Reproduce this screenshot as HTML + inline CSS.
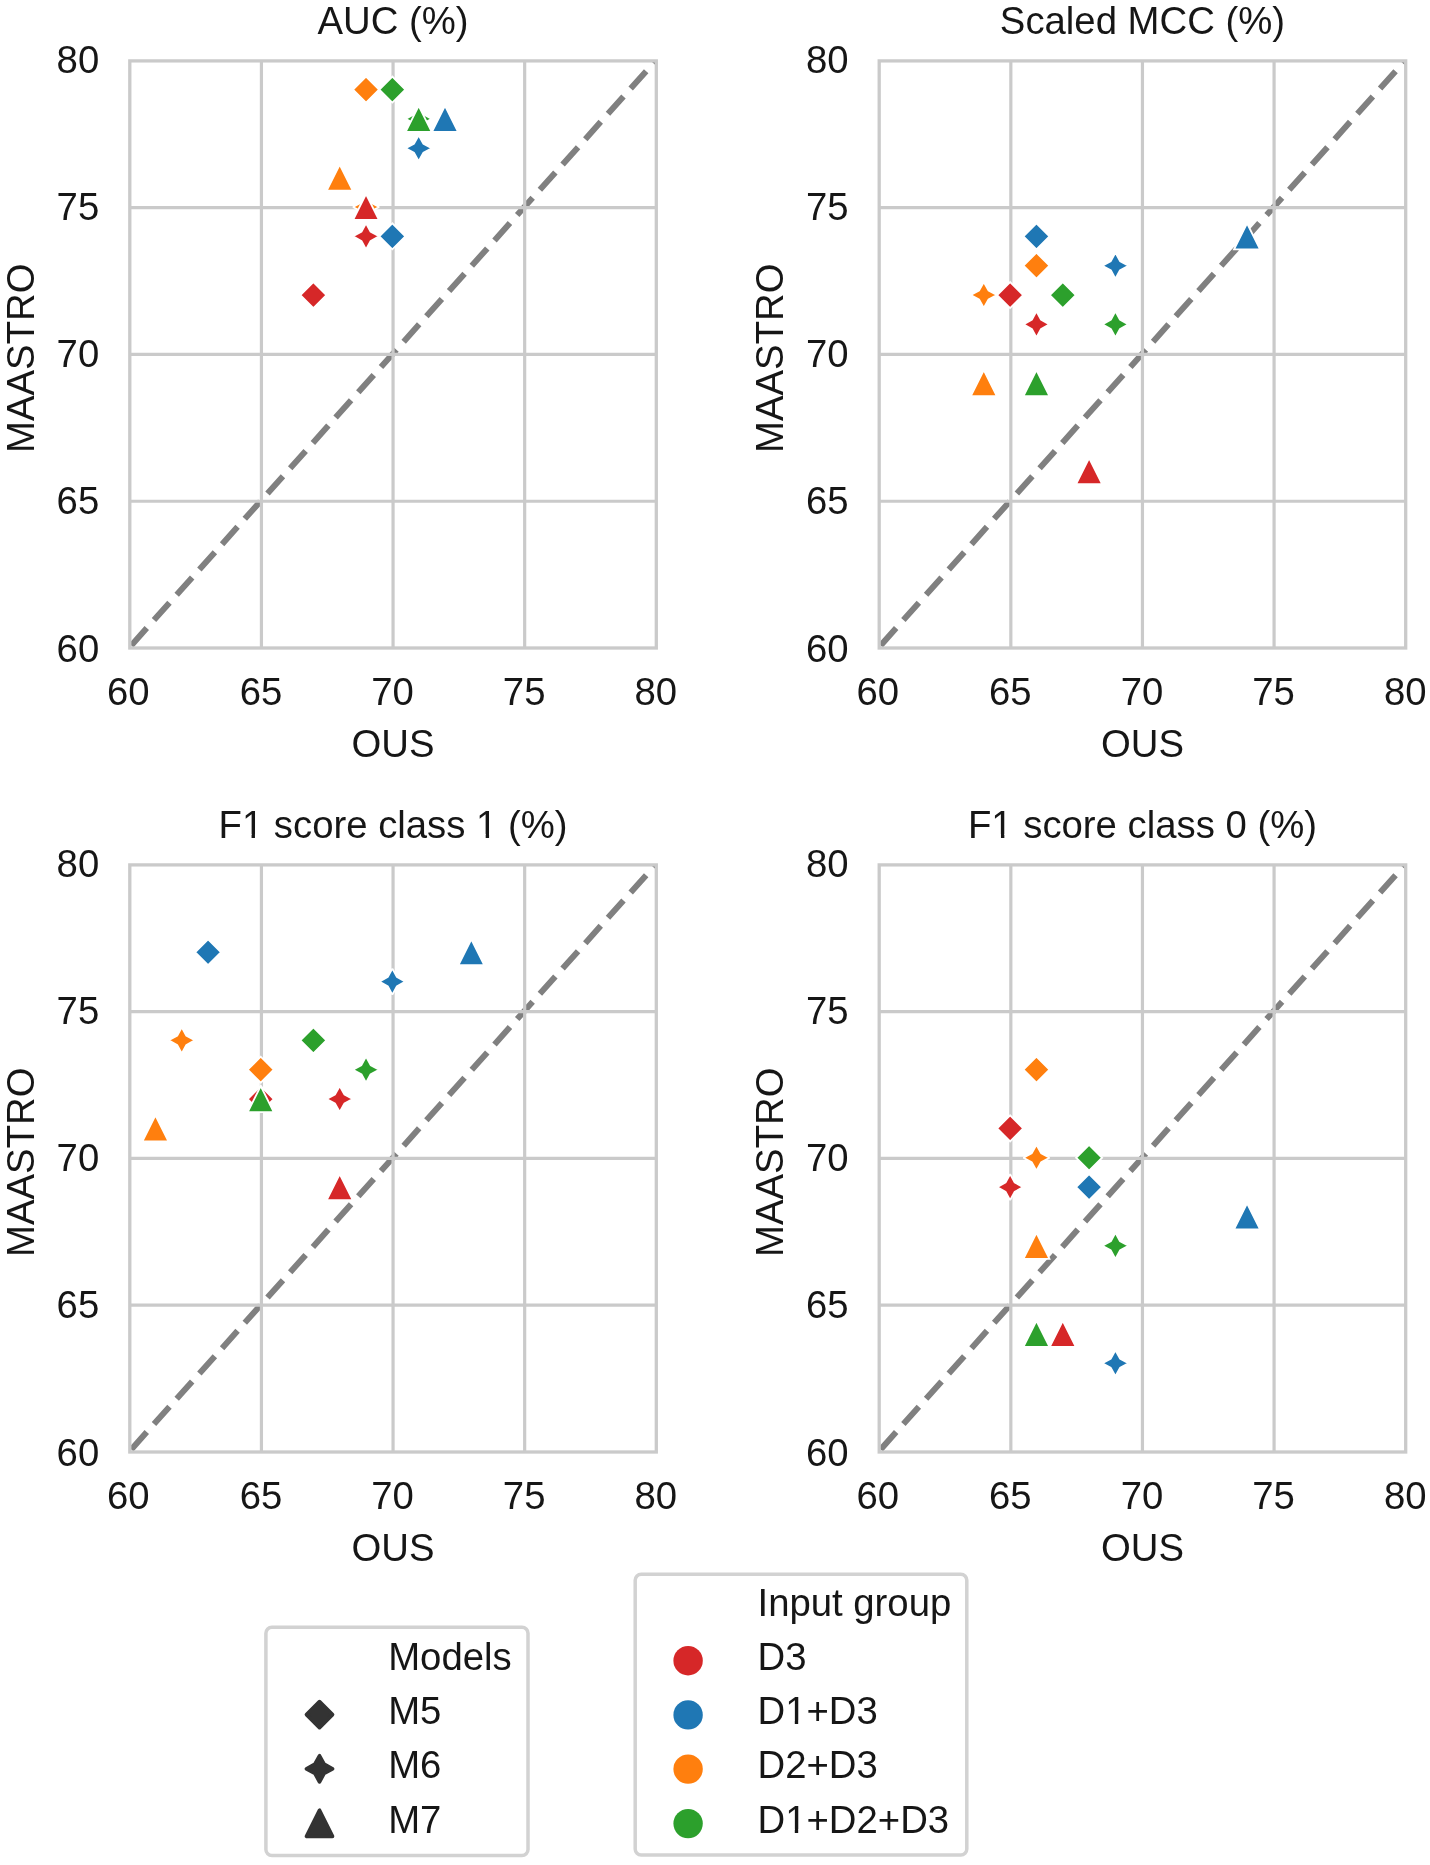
<!DOCTYPE html><html><head><meta charset="utf-8"><style>html,body{margin:0;padding:0;background:#fff;}svg{display:block;will-change:transform;}text{font-family:"Liberation Sans",sans-serif;font-size:38.3px;fill:#161616;}</style></head><body>
<svg width="1430" height="1865" viewBox="0 0 1430 1865">
<rect width="1430" height="1865" fill="#fff"/>
<defs><clipPath id="c0"><rect x="129.8" y="60.9" width="526.5" height="587.1"/></clipPath><clipPath id="c1"><rect x="879.2" y="60.9" width="526.5" height="587.1"/></clipPath><clipPath id="c2"><rect x="129.8" y="864.9" width="526.5" height="587.1"/></clipPath><clipPath id="c3"><rect x="879.2" y="864.9" width="526.5" height="587.1"/></clipPath></defs>
<g>
<g><line x1="129.35" y1="647.55" x2="655.85" y2="60.45" stroke="#808080" stroke-width="6" stroke-dasharray="23.2 10.8" stroke-dashoffset="31.1" clip-path="url(#c0)"/><path d="M261.43 60.9V648M129.8 501.23H656.3M393.05 60.9V648M129.8 354.45H656.3M524.67 60.9V648M129.8 207.68H656.3" stroke="#cacaca" stroke-width="3.2" fill="none"/><rect x="129.8" y="60.9" width="526.5" height="587.1" fill="none" stroke="#cacaca" stroke-width="3.3" stroke-linejoin="miter"/><path d="M313.38 282.04L300.38 295.04L313.38 308.04L326.38 295.04Z" fill="#d62728" stroke="#fff" stroke-width="1.8" stroke-linejoin="miter"/><path d="M392.35 223.33L379.35 236.33L392.35 249.33L405.35 236.33Z" fill="#1f77b4" stroke="#fff" stroke-width="1.8" stroke-linejoin="miter"/><path d="M366.03 76.55L353.03 89.55L366.03 102.55L379.03 89.55Z" fill="#ff7f0e" stroke="#fff" stroke-width="1.8" stroke-linejoin="miter"/><path d="M392.35 76.55L379.35 89.55L392.35 102.55L405.35 89.55Z" fill="#2ca02c" stroke="#fff" stroke-width="1.8" stroke-linejoin="miter"/><path d="M366.03 223.33L361.43 231.73L353.03 236.33L361.43 240.93L366.03 249.33L370.62 240.93L379.03 236.33L370.62 231.73Z" fill="#d62728" stroke="#fff" stroke-width="1.8" stroke-linejoin="bevel"/><path d="M418.68 135.26L414.08 143.67L405.68 148.26L414.08 152.86L418.68 161.26L423.27 152.86L431.68 148.26L423.27 143.67Z" fill="#1f77b4" stroke="#fff" stroke-width="1.8" stroke-linejoin="bevel"/><path d="M366.03 193.98L361.43 202.38L353.03 206.98L361.43 211.57L366.03 219.98L370.62 211.57L379.03 206.98L370.62 202.38Z" fill="#ff7f0e" stroke="#fff" stroke-width="1.8" stroke-linejoin="bevel"/><path d="M418.68 105.91L414.08 114.31L405.68 118.91L414.08 123.51L418.68 131.91L423.27 123.51L431.68 118.91L423.27 114.31Z" fill="#2ca02c" stroke="#fff" stroke-width="1.8" stroke-linejoin="bevel"/><path d="M366.03 193.98L353.03 219.98L379.03 219.98Z" fill="#d62728" stroke="#fff" stroke-width="1.8" stroke-linejoin="miter"/><path d="M445 105.91L432 131.91L458 131.91Z" fill="#1f77b4" stroke="#fff" stroke-width="1.8" stroke-linejoin="miter"/><path d="M339.7 164.62L326.7 190.62L352.7 190.62Z" fill="#ff7f0e" stroke="#fff" stroke-width="1.8" stroke-linejoin="miter"/><path d="M418.68 105.91L405.68 131.91L431.68 131.91Z" fill="#2ca02c" stroke="#fff" stroke-width="1.8" stroke-linejoin="miter"/><text x="99.2" y="661.9" text-anchor="end">60</text><text x="128.3" y="705" text-anchor="middle">60</text><text x="99.2" y="513.73" text-anchor="end">65</text><text x="260.93" y="705" text-anchor="middle">65</text><text x="99.2" y="366.95" text-anchor="end">70</text><text x="392.55" y="705" text-anchor="middle">70</text><text x="99.2" y="220.18" text-anchor="end">75</text><text x="524.17" y="705" text-anchor="middle">75</text><text x="99.2" y="73.4" text-anchor="end">80</text><text x="655.8" y="705" text-anchor="middle">80</text><text x="393.05" y="33.7" text-anchor="middle">AUC (%)</text><text x="393.05" y="756.5" text-anchor="middle">OUS</text><text transform="translate(33.9 358.2) rotate(-90)" text-anchor="middle">MAASTRO</text></g>
<g><line x1="878.75" y1="647.55" x2="1405.25" y2="60.45" stroke="#808080" stroke-width="6" stroke-dasharray="23.2 10.8" stroke-dashoffset="31.1" clip-path="url(#c1)"/><path d="M1010.83 60.9V648M879.2 501.23H1405.7M1142.45 60.9V648M879.2 354.45H1405.7M1274.08 60.9V648M879.2 207.68H1405.7" stroke="#cacaca" stroke-width="3.2" fill="none"/><rect x="879.2" y="60.9" width="526.5" height="587.1" fill="none" stroke="#cacaca" stroke-width="3.3" stroke-linejoin="miter"/><path d="M1010.12 282.04L997.12 295.04L1010.12 308.04L1023.12 295.04Z" fill="#d62728" stroke="#fff" stroke-width="1.8" stroke-linejoin="miter"/><path d="M1036.45 223.33L1023.45 236.33L1036.45 249.33L1049.45 236.33Z" fill="#1f77b4" stroke="#fff" stroke-width="1.8" stroke-linejoin="miter"/><path d="M1036.45 252.69L1023.45 265.69L1036.45 278.69L1049.45 265.69Z" fill="#ff7f0e" stroke="#fff" stroke-width="1.8" stroke-linejoin="miter"/><path d="M1062.78 282.04L1049.78 295.04L1062.78 308.04L1075.78 295.04Z" fill="#2ca02c" stroke="#fff" stroke-width="1.8" stroke-linejoin="miter"/><path d="M1036.45 311.39L1031.85 319.8L1023.45 324.39L1031.85 328.99L1036.45 337.39L1041.05 328.99L1049.45 324.39L1041.05 319.8Z" fill="#d62728" stroke="#fff" stroke-width="1.8" stroke-linejoin="bevel"/><path d="M1115.42 252.69L1110.83 261.09L1102.42 265.69L1110.83 270.28L1115.42 278.69L1120.02 270.28L1128.42 265.69L1120.02 261.09Z" fill="#1f77b4" stroke="#fff" stroke-width="1.8" stroke-linejoin="bevel"/><path d="M983.8 282.04L979.2 290.44L970.8 295.04L979.2 299.64L983.8 308.04L988.4 299.64L996.8 295.04L988.4 290.44Z" fill="#ff7f0e" stroke="#fff" stroke-width="1.8" stroke-linejoin="bevel"/><path d="M1115.42 311.39L1110.83 319.8L1102.42 324.39L1110.83 328.99L1115.42 337.39L1120.02 328.99L1128.42 324.39L1120.02 319.8Z" fill="#2ca02c" stroke="#fff" stroke-width="1.8" stroke-linejoin="bevel"/><path d="M1089.1 458.17L1076.1 484.17L1102.1 484.17Z" fill="#d62728" stroke="#fff" stroke-width="1.8" stroke-linejoin="miter"/><path d="M1247.05 223.33L1234.05 249.33L1260.05 249.33Z" fill="#1f77b4" stroke="#fff" stroke-width="1.8" stroke-linejoin="miter"/><path d="M983.8 370.1L970.8 396.1L996.8 396.1Z" fill="#ff7f0e" stroke="#fff" stroke-width="1.8" stroke-linejoin="miter"/><path d="M1036.45 370.1L1023.45 396.1L1049.45 396.1Z" fill="#2ca02c" stroke="#fff" stroke-width="1.8" stroke-linejoin="miter"/><text x="848.6" y="661.9" text-anchor="end">60</text><text x="877.7" y="705" text-anchor="middle">60</text><text x="848.6" y="513.73" text-anchor="end">65</text><text x="1010.33" y="705" text-anchor="middle">65</text><text x="848.6" y="366.95" text-anchor="end">70</text><text x="1141.95" y="705" text-anchor="middle">70</text><text x="848.6" y="220.18" text-anchor="end">75</text><text x="1273.58" y="705" text-anchor="middle">75</text><text x="848.6" y="73.4" text-anchor="end">80</text><text x="1405.2" y="705" text-anchor="middle">80</text><text x="1142.45" y="33.7" text-anchor="middle">Scaled MCC (%)</text><text x="1142.45" y="756.5" text-anchor="middle">OUS</text><text transform="translate(783.3 358.2) rotate(-90)" text-anchor="middle">MAASTRO</text></g>
<g><line x1="129.35" y1="1451.55" x2="655.85" y2="864.45" stroke="#808080" stroke-width="6" stroke-dasharray="23.2 10.8" stroke-dashoffset="31.1" clip-path="url(#c2)"/><path d="M261.43 864.9V1452M129.8 1305.22H656.3M393.05 864.9V1452M129.8 1158.45H656.3M524.67 864.9V1452M129.8 1011.67H656.3" stroke="#cacaca" stroke-width="3.2" fill="none"/><rect x="129.8" y="864.9" width="526.5" height="587.1" fill="none" stroke="#cacaca" stroke-width="3.3" stroke-linejoin="miter"/><path d="M260.73 1086.04L247.73 1099.04L260.73 1112.04L273.73 1099.04Z" fill="#d62728" stroke="#fff" stroke-width="1.8" stroke-linejoin="miter"/><path d="M208.08 939.26L195.08 952.26L208.08 965.26L221.08 952.26Z" fill="#1f77b4" stroke="#fff" stroke-width="1.8" stroke-linejoin="miter"/><path d="M260.73 1056.68L247.73 1069.68L260.73 1082.68L273.73 1069.68Z" fill="#ff7f0e" stroke="#fff" stroke-width="1.8" stroke-linejoin="miter"/><path d="M313.38 1027.33L300.38 1040.33L313.38 1053.33L326.38 1040.33Z" fill="#2ca02c" stroke="#fff" stroke-width="1.8" stroke-linejoin="miter"/><path d="M339.7 1086.04L335.1 1094.44L326.7 1099.04L335.1 1103.64L339.7 1112.04L344.3 1103.64L352.7 1099.04L344.3 1094.44Z" fill="#d62728" stroke="#fff" stroke-width="1.8" stroke-linejoin="bevel"/><path d="M392.35 968.62L387.75 977.02L379.35 981.62L387.75 986.22L392.35 994.62L396.95 986.22L405.35 981.62L396.95 977.02Z" fill="#1f77b4" stroke="#fff" stroke-width="1.8" stroke-linejoin="bevel"/><path d="M181.75 1027.33L177.15 1035.73L168.75 1040.33L177.15 1044.93L181.75 1053.33L186.35 1044.93L194.75 1040.33L186.35 1035.73Z" fill="#ff7f0e" stroke="#fff" stroke-width="1.8" stroke-linejoin="bevel"/><path d="M366.03 1056.68L361.43 1065.09L353.03 1069.68L361.43 1074.28L366.03 1082.68L370.62 1074.28L379.03 1069.68L370.62 1065.09Z" fill="#2ca02c" stroke="#fff" stroke-width="1.8" stroke-linejoin="bevel"/><path d="M339.7 1174.1L326.7 1200.1L352.7 1200.1Z" fill="#d62728" stroke="#fff" stroke-width="1.8" stroke-linejoin="miter"/><path d="M471.33 939.26L458.33 965.26L484.33 965.26Z" fill="#1f77b4" stroke="#fff" stroke-width="1.8" stroke-linejoin="miter"/><path d="M155.43 1115.39L142.43 1141.39L168.43 1141.39Z" fill="#ff7f0e" stroke="#fff" stroke-width="1.8" stroke-linejoin="miter"/><path d="M260.73 1086.04L247.73 1112.04L273.73 1112.04Z" fill="#2ca02c" stroke="#fff" stroke-width="1.8" stroke-linejoin="miter"/><text x="99.2" y="1465.9" text-anchor="end">60</text><text x="128.3" y="1509" text-anchor="middle">60</text><text x="99.2" y="1317.72" text-anchor="end">65</text><text x="260.93" y="1509" text-anchor="middle">65</text><text x="99.2" y="1170.95" text-anchor="end">70</text><text x="392.55" y="1509" text-anchor="middle">70</text><text x="99.2" y="1024.17" text-anchor="end">75</text><text x="524.17" y="1509" text-anchor="middle">75</text><text x="99.2" y="877.4" text-anchor="end">80</text><text x="655.8" y="1509" text-anchor="middle">80</text><text x="393.05" y="837.7" text-anchor="middle">F1 score class 1 (%)</text><rect x="243.8" y="834.24" width="7.76" height="5.28" fill="#fff"/><rect x="254.94" y="834.24" width="7.56" height="5.28" fill="#fff"/><rect x="477.93" y="834.24" width="7.76" height="5.28" fill="#fff"/><rect x="489.08" y="834.24" width="7.56" height="5.28" fill="#fff"/><text x="393.05" y="1560.5" text-anchor="middle">OUS</text><text transform="translate(33.9 1162.2) rotate(-90)" text-anchor="middle">MAASTRO</text></g>
<g><line x1="878.75" y1="1451.55" x2="1405.25" y2="864.45" stroke="#808080" stroke-width="6" stroke-dasharray="23.2 10.8" stroke-dashoffset="31.1" clip-path="url(#c3)"/><path d="M1010.83 864.9V1452M879.2 1305.22H1405.7M1142.45 864.9V1452M879.2 1158.45H1405.7M1274.08 864.9V1452M879.2 1011.67H1405.7" stroke="#cacaca" stroke-width="3.2" fill="none"/><rect x="879.2" y="864.9" width="526.5" height="587.1" fill="none" stroke="#cacaca" stroke-width="3.3" stroke-linejoin="miter"/><path d="M1010.12 1115.39L997.12 1128.39L1010.12 1141.39L1023.12 1128.39Z" fill="#d62728" stroke="#fff" stroke-width="1.8" stroke-linejoin="miter"/><path d="M1089.1 1174.1L1076.1 1187.1L1089.1 1200.1L1102.1 1187.1Z" fill="#1f77b4" stroke="#fff" stroke-width="1.8" stroke-linejoin="miter"/><path d="M1036.45 1056.68L1023.45 1069.68L1036.45 1082.68L1049.45 1069.68Z" fill="#ff7f0e" stroke="#fff" stroke-width="1.8" stroke-linejoin="miter"/><path d="M1089.1 1144.75L1076.1 1157.75L1089.1 1170.75L1102.1 1157.75Z" fill="#2ca02c" stroke="#fff" stroke-width="1.8" stroke-linejoin="miter"/><path d="M1010.12 1174.1L1005.53 1182.51L997.12 1187.1L1005.53 1191.7L1010.12 1200.1L1014.72 1191.7L1023.12 1187.1L1014.72 1182.51Z" fill="#d62728" stroke="#fff" stroke-width="1.8" stroke-linejoin="bevel"/><path d="M1115.42 1350.23L1110.83 1358.64L1102.42 1363.23L1110.83 1367.83L1115.42 1376.23L1120.02 1367.83L1128.42 1363.23L1120.02 1358.64Z" fill="#1f77b4" stroke="#fff" stroke-width="1.8" stroke-linejoin="bevel"/><path d="M1036.45 1144.75L1031.85 1153.15L1023.45 1157.75L1031.85 1162.35L1036.45 1170.75L1041.05 1162.35L1049.45 1157.75L1041.05 1153.15Z" fill="#ff7f0e" stroke="#fff" stroke-width="1.8" stroke-linejoin="bevel"/><path d="M1115.42 1232.82L1110.83 1241.22L1102.42 1245.82L1110.83 1250.41L1115.42 1258.82L1120.02 1250.41L1128.42 1245.82L1120.02 1241.22Z" fill="#2ca02c" stroke="#fff" stroke-width="1.8" stroke-linejoin="bevel"/><path d="M1062.78 1320.88L1049.78 1346.88L1075.78 1346.88Z" fill="#d62728" stroke="#fff" stroke-width="1.8" stroke-linejoin="miter"/><path d="M1247.05 1203.46L1234.05 1229.46L1260.05 1229.46Z" fill="#1f77b4" stroke="#fff" stroke-width="1.8" stroke-linejoin="miter"/><path d="M1036.45 1232.82L1023.45 1258.82L1049.45 1258.82Z" fill="#ff7f0e" stroke="#fff" stroke-width="1.8" stroke-linejoin="miter"/><path d="M1036.45 1320.88L1023.45 1346.88L1049.45 1346.88Z" fill="#2ca02c" stroke="#fff" stroke-width="1.8" stroke-linejoin="miter"/><text x="848.6" y="1465.9" text-anchor="end">60</text><text x="877.7" y="1509" text-anchor="middle">60</text><text x="848.6" y="1317.72" text-anchor="end">65</text><text x="1010.33" y="1509" text-anchor="middle">65</text><text x="848.6" y="1170.95" text-anchor="end">70</text><text x="1141.95" y="1509" text-anchor="middle">70</text><text x="848.6" y="1024.17" text-anchor="end">75</text><text x="1273.58" y="1509" text-anchor="middle">75</text><text x="848.6" y="877.4" text-anchor="end">80</text><text x="1405.2" y="1509" text-anchor="middle">80</text><text x="1142.45" y="837.7" text-anchor="middle">F1 score class 0 (%)</text><rect x="993.2" y="834.24" width="7.76" height="5.28" fill="#fff"/><rect x="1004.34" y="834.24" width="7.56" height="5.28" fill="#fff"/><text x="1142.45" y="1560.5" text-anchor="middle">OUS</text><text transform="translate(783.3 1162.2) rotate(-90)" text-anchor="middle">MAASTRO</text></g>
<rect x="265.9" y="1627.2" width="262.1" height="228.2" rx="6" ry="6" fill="#fff" stroke="#d2d2d2" stroke-width="3.5"/>
<rect x="635.2" y="1574.2" width="331.6" height="280.8" rx="6" ry="6" fill="#fff" stroke="#d2d2d2" stroke-width="3.5"/>
<text x="388.2" y="1669.9">Models</text>
<text x="388.2" y="1724.1">M5</text>
<path d="M319.5 1701.6L306.5 1714.6L319.5 1727.6L332.5 1714.6Z" fill="#333" stroke="#333" stroke-width="3.7" stroke-linejoin="round"/>
<text x="388.2" y="1778.3">M6</text>
<path d="M319.5 1755.8L314.9 1764.2L306.5 1768.8L314.9 1773.4L319.5 1781.8L324.1 1773.4L332.5 1768.8L324.1 1764.2Z" fill="#333" stroke="#333" stroke-width="3.7" stroke-linejoin="round"/>
<text x="388.2" y="1832.8">M7</text>
<path d="M319.5 1810.3L306.5 1836.3L332.5 1836.3Z" fill="#333" stroke="#333" stroke-width="3.7" stroke-linejoin="round"/>
<text x="757.5" y="1616.4">Input group</text>
<text x="757.5" y="1669.9">D3</text>

<circle cx="688.1" cy="1660.7" r="14.7" fill="#d62728"/>
<text x="757.5" y="1724.1">D1+D3</text>
<rect x="787.03" y="1720.64" width="7.76" height="5.28" fill="#fff"/><rect x="798.18" y="1720.64" width="7.56" height="5.28" fill="#fff"/>
<circle cx="688.1" cy="1714.9" r="14.7" fill="#1f77b4"/>
<text x="757.5" y="1778.3">D2+D3</text>

<circle cx="688.1" cy="1769.1" r="14.7" fill="#ff7f0e"/>
<text x="757.5" y="1832.8">D1+D2+D3</text>
<rect x="787.03" y="1829.34" width="7.76" height="5.28" fill="#fff"/><rect x="798.18" y="1829.34" width="7.56" height="5.28" fill="#fff"/>
<circle cx="688.1" cy="1823.6" r="14.7" fill="#2ca02c"/>
</g></svg></body></html>
